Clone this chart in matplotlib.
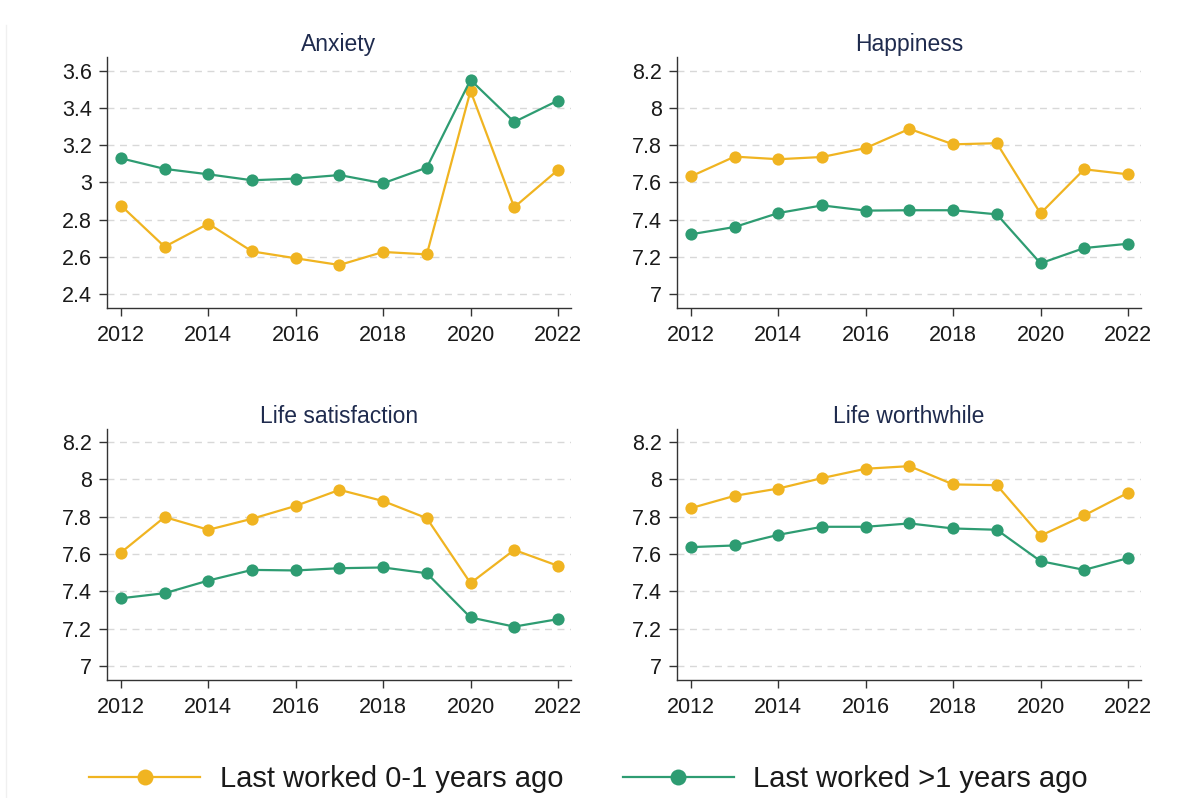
import matplotlib
matplotlib.use("Agg")
import matplotlib.pyplot as plt
from matplotlib.lines import Line2D

plt.rcParams['font.family'] = ['Liberation Sans', 'DejaVu Sans']

# data
years = [2012, 2013, 2014, 2015, 2016, 2017, 2018, 2019, 2020, 2021, 2022]

anxiety_recent = [2.875, 2.654, 2.778, 2.629, 2.592, 2.556, 2.626, 2.613, 3.491, 2.866, 3.066]
anxiety_older = [3.129, 3.072, 3.043, 3.011, 3.020, 3.039, 2.995, 3.079, 3.550, 3.324, 3.439]

happiness_recent = [7.632, 7.738, 7.724, 7.736, 7.784, 7.887, 7.804, 7.810, 7.433, 7.670, 7.643]
happiness_older = [7.321, 7.360, 7.435, 7.476, 7.448, 7.450, 7.450, 7.428, 7.165, 7.247, 7.270]

lifesat_recent = [7.608, 7.798, 7.730, 7.789, 7.858, 7.944, 7.884, 7.792, 7.444, 7.622, 7.537]
lifesat_older = [7.363, 7.390, 7.458, 7.515, 7.512, 7.524, 7.528, 7.497, 7.260, 7.211, 7.251]

worth_recent = [7.846, 7.912, 7.951, 8.007, 8.057, 8.071, 7.973, 7.969, 7.698, 7.807, 7.928]
worth_older = [7.637, 7.646, 7.703, 7.746, 7.746, 7.764, 7.737, 7.730, 7.562, 7.515, 7.578]

titles = ['Anxiety', 'Happiness', 'Life satisfaction', 'Life worthwhile']
series_labels = ['Last worked 0-1 years ago', 'Last worked >1 years ago']

anxiety_ticks = [2.4, 2.6, 2.8, 3.0, 3.2, 3.4, 3.6]
anxiety_ticklabels = ['2.4', '2.6', '2.8', '3', '3.2', '3.4', '3.6']
wellbeing_ticks = [7.0, 7.2, 7.4, 7.6, 7.8, 8.0, 8.2]
wellbeing_ticklabels = ['7', '7.2', '7.4', '7.6', '7.8', '8', '8.2']
year_ticks = [2012, 2014, 2016, 2018, 2020, 2022]

YELLOW = '#F0B421'
GREEN = '#2E9C72'
TITLE_COL = '#1F2B4E'
TEXT_COL = '#1A1A1A'
AXIS_COL = '#333333'

fig = plt.figure(figsize=(11.77, 7.98), dpi=100)

# faint border line at the left edge of the original image
fig.add_artist(Line2D([6 / 1177, 6 / 1177], [0, 1 - 25 / 798],
                      color='#f0f0f0', lw=1))

W, H = 1177, 798
panels = [
    # left, top, right, bottom in pixels
    (107, 57, 571, 308),
    (677, 57, 1141, 308),
    (107, 429, 571, 680),
    (677, 429, 1141, 680),
]
data = [
    (anxiety_recent, anxiety_older, anxiety_ticks, anxiety_ticklabels, (2.325, 3.673)),
    (happiness_recent, happiness_older, wellbeing_ticks, wellbeing_ticklabels, (6.925, 8.273)),
    (lifesat_recent, lifesat_older, wellbeing_ticks, wellbeing_ticklabels, (6.925, 8.27)),
    (worth_recent, worth_older, wellbeing_ticks, wellbeing_ticklabels, (6.925, 8.27)),
]

for (l, t, r, b), (recent, older, yt, ytl, ylim), title in zip(panels, data, titles):
    ax = fig.add_axes([l / W, 1 - b / H, (r - l) / W, (b - t) / H])
    ax.set_xlim(2011.68, 2022.3)
    ax.set_ylim(*ylim)
    for y in yt:
        ax.axhline(y, color='#d8d8d8', lw=1.0, dashes=(5, 4), zorder=0)
    ax.plot(years, recent, color=YELLOW, lw=1.6, marker='o', markersize=8.8,
            markeredgewidth=0, zorder=3)
    ax.plot(years, older, color=GREEN, lw=1.6, marker='o', markersize=8.8,
            markeredgewidth=0, zorder=3)
    ax.set_yticks(yt)
    ax.set_yticklabels(ytl)
    ax.set_xticks(year_ticks)
    ax.set_xticklabels([str(y) for y in year_ticks])
    ax.tick_params(axis='both', labelsize=15.5, colors=AXIS_COL, labelcolor=TEXT_COL,
                   length=6, width=1.0, pad=5)
    ax.tick_params(axis='x', pad=6)
    for side in ['top', 'right']:
        ax.spines[side].set_visible(False)
    for side in ['left', 'bottom']:
        ax.spines[side].set_color(AXIS_COL)
        ax.spines[side].set_linewidth(1.0)
    ax.set_title(title, fontsize=16.5, color=TITLE_COL, pad=4)

handles = [
    Line2D([], [], color=YELLOW, lw=1.6, marker='o', markersize=11.5, markeredgewidth=0),
    Line2D([], [], color=GREEN, lw=1.6, marker='o', markersize=11.5, markeredgewidth=0),
]
fig.legend(handles, series_labels, loc='center', bbox_to_anchor=(0.5, 0.024),
           ncol=2, frameon=False, fontsize=21, handlelength=3.8,
           handletextpad=0.67, columnspacing=2.05, labelcolor=TEXT_COL,
           borderpad=0)

fig.savefig('out.png', dpi=100, facecolor='white')
